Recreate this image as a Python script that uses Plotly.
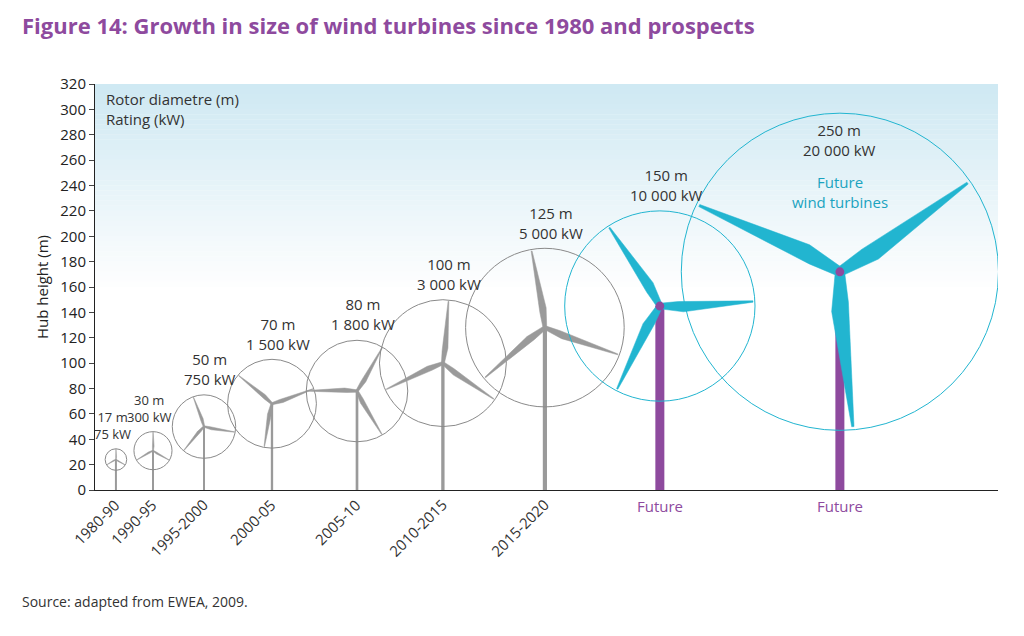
import math
import plotly.graph_objects as go

# ---- data ----
periods = ["1980-90", "1990-95", "1995-2000", "2000-05", "2005-10", "2010-2015", "2015-2020", "Future", "Future"]
x_pos = [16.5, 45.7, 85.9, 139.5, 206.5, 274.2, 354.6, 445.2, 587.1]
hub_height = [24, 31, 50, 68, 78, 100, 128, 145, 172]
rotor_diam = [17, 30, 50, 70, 80, 100, 125, 150, 250]
rating_kw = ["75 kW", "300 kW", "750 kW", "1 500 kW", "1 800 kW", "3 000 kW", "5 000 kW", "10 000 kW", "20 000 kW"]
blade_angle = [90, 90, 110, 20, 60, 85, 100, 3, 35]
y_ticks = list(range(0, 321, 20))

W, H = 1024, 636
OFF = 8  # page body margin
L_, R_, T_, B_ = 95 - OFF, 26 + OFF, 84 - OFF, 146 + OFF
pw, ph = W - L_ - R_, H - T_ - B_
ymax = 320
pxu = ph / ymax
xmax = pw / pxu

GRAY, CYAN, PURPLE = "#9a9a9a", "#22b5d0", "#8e4a9e"
fig = go.Figure()
shapes, ann = [], []

n = 40
for i in range(n):
    y0 = ymax - (i + 1) * 4
    t = i / n
    c = [int(207 + (255 - 207) * t), int(233 + (255 - 233) * t), int(243 + (255 - 243) * t)]
    shapes.append(dict(type="rect", xref="paper", x0=0, x1=1, yref="y", y0=y0, y1=y0 + 4.2,
                       fillcolor=f"rgb({c[0]},{c[1]},{c[2]})", line_width=0, layer="below"))

for i in range(len(periods)):
    fut = periods[i] == "Future"
    x, y, r = x_pos[i], hub_height[i], rotor_diam[i] / 2
    lc = CYAN if fut else "#8a8a8a"
    bc = CYAN if fut else GRAY
    fig.add_trace(go.Scatter(x=[x, x], y=[0, y], mode="lines", hoverinfo="skip", showlegend=False,
                             line=dict(color=PURPLE if fut else GRAY, width=9 if fut else max(2, r / 15))))
    shapes.append(dict(type="circle", x0=x - r, x1=x + r, y0=y - r, y1=y + r,
                       line=dict(color=lc, width=1)))
    Lb = r * 0.98
    w = Lb * (0.075 if fut else 0.06)
    loc = [(0, -0.4 * w), (0.25 * Lb, -w), (Lb, -0.15 * w), (Lb, 0.05 * w), (0.2 * Lb, 0.5 * w), (0, 0.4 * w)]
    for k in range(3):
        a = math.radians(blade_angle[i] + 120 * k)
        pts = [(x + u * math.cos(a) - v * math.sin(a), y + u * math.sin(a) + v * math.cos(a)) for u, v in loc]
        path = "M " + " L ".join(f"{px:.3f},{py:.3f}" for px, py in pts) + " Z"
        shapes.append(dict(type="path", path=path, fillcolor=bc, line=dict(color=bc, width=0.5)))
    if fut:
        d = 3.5
        shapes.append(dict(type="circle", x0=x - d, x1=x + d, y0=y - d, y1=y + d,
                           fillcolor=PURPLE, line_width=0))
    if i == len(periods) - 1:
        ann.append(dict(x=x, y=y + r - 4, text=f"{rotor_diam[i]} m<br>{rating_kw[i]}",
                        showarrow=False, yanchor="top", font=dict(size=15, color="#333")))
    else:
        ann.append(dict(x=x + (5 if i > 1 else -3), y=y + r + 3, text=f"{rotor_diam[i]} m<br>{rating_kw[i]}",
                        showarrow=False, yanchor="bottom", font=dict(size=15 if i > 1 else 13, color="#333")))
    if fut:
        ann.append(dict(x=x, y=0, text="Future", showarrow=False, yanchor="top", yshift=-4,
                        font=dict(size=15, color=PURPLE)))
    else:
        ann.append(dict(x=x, y=0, text=periods[i], showarrow=False, textangle=-45,
                        xanchor="right", yanchor="top", xshift=10, yshift=-2,
                        font=dict(size=15, color="#333")))

ann.append(dict(x=587.1, y=252, text="Future<br>wind turbines", showarrow=False,
                font=dict(size=15, color="#1aa3c0"), yanchor="top"))
ann.append(dict(xref="paper", x=0.01, y=318, text="Rotor diametre (m)<br>Rating (kW)", showarrow=False,
                xanchor="left", yanchor="top", align="left", font=dict(size=15, color="#333")))
ann.append(dict(xref="paper", yref="paper", x=-L_ / pw + 12 / pw, y=1 + (T_ - 17) / ph,
                text="<b>Figure 14: Growth in size of wind turbines since 1980 and prospects</b>",
                showarrow=False, xanchor="left", yanchor="middle", font=dict(size=22, color=PURPLE)))
ann.append(dict(xref="paper", yref="paper", x=-L_ / pw + 12 / pw, y=-(593 - T_ - ph) / ph,
                text="Source: adapted from EWEA, 2009.", showarrow=False, xanchor="left",
                yanchor="middle", font=dict(size=14, color="#333")))

fig.update_layout(
    width=W, height=H, margin=dict(l=L_, r=R_, t=T_, b=B_), autosize=False,
    paper_bgcolor="white", plot_bgcolor="white",
    font=dict(family="Open Sans, Lato, sans-serif"),
    shapes=shapes, annotations=ann,
    xaxis=dict(range=[0, xmax], showticklabels=False, showgrid=False, zeroline=False,
               showline=True, linecolor="#222", ticks="", fixedrange=True),
    yaxis=dict(range=[0, ymax], tickvals=y_ticks, ticks="outside", ticklen=5, showgrid=False,
               zeroline=False, showline=True, linecolor="#222", tickfont=dict(size=15, color="#222"),
               automargin=False,
               title=dict(text="Hub height (m)", font=dict(size=15, color="#222"), standoff=8)),
)
fig.write_html("out.html")
